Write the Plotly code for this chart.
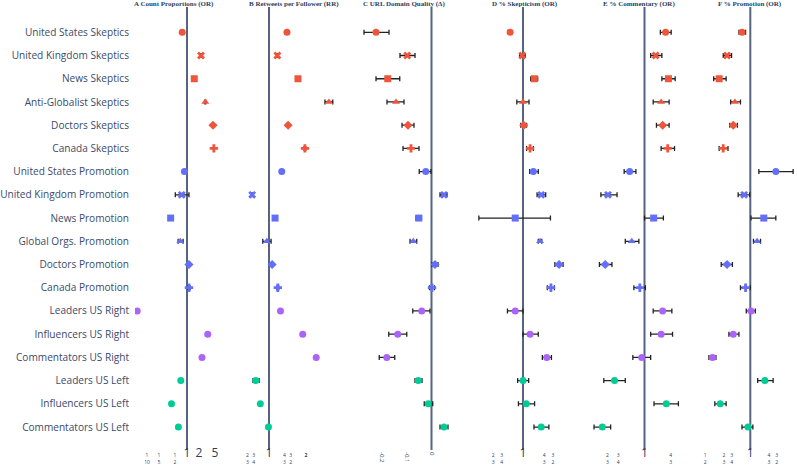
import plotly.graph_objects as go

rows = ["United States Skeptics", "United Kingdom Skeptics", "News Skeptics",
        "Anti-Globalist Skeptics", "Doctors Skeptics", "Canada Skeptics",
        "United States Promotion", "United Kingdom Promotion", "News Promotion",
        "Global Orgs. Promotion", "Doctors Promotion", "Canada Promotion",
        "Leaders US Right", "Influencers US Right", "Commentators US Right",
        "Leaders US Left", "Influencers US Left", "Commentators US Left"]

panel_titles = ["A Count Proportions (OR)", "B Retweets per Follower (RR)",
                "C URL Domain Quality (Δ)", "D % Skepticism (OR)",
                "E % Commentary (OR)", "F % Promotion (OR)"]

A_est = [0.76, 2.24, 1.52, 2.87, 4.47, 4.7, 0.86, 0.74, 0.39, 0.68, 1.12, 1.12, 0.057, 3.3, 2.37, 0.70, 0.41, 0.61]
A_lo = [0.74, 2.2, 1.42, 2.8, 4.4, 4.6, 0.84, 0.51, 0.37, 0.60, 1.08, 1.04, 0.055, 3.25, 2.33, 0.68, 0.40, 0.60]
A_hi = [0.78, 2.28, 1.62, 2.94, 4.55, 4.8, 0.88, 1.12, 0.41, 0.80, 1.16, 1.2, 0.059, 3.35, 2.41, 0.72, 0.42, 0.62]

B_est = [1.40, 1.17, 1.72, 3.07, 1.43, 1.96, 1.27, 0.73, 1.12, 0.96, 1.06, 1.18, 1.24, 1.88, 2.42, 0.78, 0.85, 0.99]
B_lo = [1.38, 1.16, 1.66, 2.85, 1.41, 1.93, 1.25, 0.72, 1.10, 0.89, 1.04, 1.16, 1.22, 1.86, 2.39, 0.74, 0.84, 0.98]
B_hi = [1.42, 1.18, 1.78, 3.30, 1.45, 1.99, 1.29, 0.74, 1.14, 1.04, 1.08, 1.20, 1.26, 1.90, 2.45, 0.83, 0.86, 1.00]

C_est = [-0.222, -0.097, -0.175, -0.142, -0.094, -0.082, -0.023, 0.050, -0.051, -0.073, 0.014, 0.002, -0.039, -0.135, -0.179, -0.053, -0.013, 0.050]
C_lo = [-0.270, -0.126, -0.222, -0.178, -0.118, -0.114, -0.049, 0.034, -0.062, -0.086, 0.002, -0.008, -0.075, -0.171, -0.209, -0.066, -0.029, 0.034]
C_hi = [-0.170, -0.066, -0.127, -0.110, -0.070, -0.050, -0.002, 0.062, -0.040, -0.059, 0.026, 0.012, -0.006, -0.099, -0.147, -0.038, 0.005, 0.066]

D_est = [0.84, 0.99, 1.166, 1.00, 1.01, 1.10, 1.15, 1.28, 0.90, 1.26, 1.63, 1.46, 0.90, 1.10, 1.38, 1.00, 1.045, 1.28]
D_lo = [0.82, 0.955, 1.11, 0.92, 0.97, 1.05, 1.095, 1.21, 0.55, 1.23, 1.54, 1.39, 0.81, 1.00, 1.30, 0.93, 0.94, 1.16]
D_hi = [0.86, 1.03, 1.22, 1.085, 1.05, 1.15, 1.23, 1.36, 1.45, 1.29, 1.72, 1.53, 1.00, 1.23, 1.47, 1.08, 1.17, 1.42]

E_est = [1.26, 1.13, 1.30, 1.20, 1.22, 1.29, 0.85, 0.67, 1.106, 0.87, 0.65, 0.95, 1.22, 1.20, 0.97, 0.72, 1.27, 0.63]
E_lo = [1.19, 1.07, 1.21, 1.10, 1.14, 1.20, 0.80, 0.62, 1.00, 0.81, 0.61, 0.89, 1.10, 1.07, 0.88, 0.64, 1.11, 0.575]
E_hi = [1.34, 1.21, 1.40, 1.31, 1.31, 1.39, 0.91, 0.74, 1.23, 0.94, 0.70, 1.01, 1.35, 1.36, 1.07, 0.81, 1.45, 0.69]

F_est = [0.88, 0.70, 0.62, 0.79, 0.77, 0.66, 1.48, 0.91, 1.23, 1.11, 0.70, 0.93, 1.01, 0.77, 0.56, 1.25, 0.63, 0.965]
F_lo = [0.84, 0.66, 0.57, 0.74, 0.73, 0.62, 1.14, 0.83, 1.01, 1.05, 0.64, 0.86, 0.94, 0.72, 0.53, 1.12, 0.58, 0.88]
F_hi = [0.93, 0.75, 0.69, 0.86, 0.82, 0.71, 1.93, 0.99, 1.48, 1.17, 0.76, 1.00, 1.08, 0.84, 0.59, 1.42, 0.69, 1.04]

BIG = "<span style='font-size:12px'>{}</span>"
A_ticks = [0.1, 0.2, 0.5, 1, 2, 5]
A_ticktext = ["1<br>10", "1<br>5", "1<br>2", BIG.format("1"), BIG.format("2"), BIG.format("5")]
B_ticks = [2/3, 3/4, 1, 4/3, 3/2, 2]
B_ticktext = ["2<br>3", "3<br>4", BIG.format("1"), "4<br>3", "3<br>2", "<b>2</b>"]
C_ticks = [-0.2, -0.1, 0]
C_ticktext = ["-0.2", "-0.1", "0"]
D_ticks = [2/3, 3/4, 1, 4/3, 3/2]
D_ticktext = ["2<br>3", "3<br>4", BIG.format("1"), "4<br>3", "3<br>2"]
E_ticks = [2/3, 3/4, 1, 4/3]
E_ticktext = ["2<br>3", "3<br>4", BIG.format("1"), "4<br>3"]
F_ticks = [1/2, 2/3, 3/4, 1, 4/3, 3/2, 2]
F_ticktext = ["1<br>2", "2<br>3", "3<br>4", BIG.format("1"), "4<br>3", "3<br>2", "<b>2</b>"]

group_colors = ["#EF553B"] * 6 + ["#636EFA"] * 6 + ["#AB63FA"] * 3 + ["#00CC96"] * 3
symbols = ["circle", "x", "square", "triangle-up", "diamond", "cross"] * 2 + ["circle"] * 6

W, H = 797, 465
panels_px = [(135, 240), (245, 340), (350, 455), (460, 575), (585, 690), (700, 797)]
ref_px = [187, 269, 431.5, 523, 644.5, 750.3]
scale = [40, 123, 250, 170, 210, 150]  # px per decade (log) / per unit (linear)
is_log = [True, True, False, True, True, True]
title_cx = [174, 294, 404, 525, 639, 750]

panels = [(A_est, A_lo, A_hi, A_ticks, A_ticktext),
          (B_est, B_lo, B_hi, B_ticks, B_ticktext),
          (C_est, C_lo, C_hi, C_ticks, C_ticktext),
          (D_est, D_lo, D_hi, D_ticks, D_ticktext),
          (E_est, E_lo, E_hi, E_ticks, E_ticktext),
          (F_est, F_lo, F_hi, F_ticks, F_ticktext)]

ypos = list(range(len(rows)))
fig = go.Figure()
layout = {}
ink = "#2a3f5f"
for i, (est, lo, hi, tv, tt) in enumerate(panels):
    xa = "x" if i == 0 else f"x{i+1}"
    fig.add_trace(go.Scatter(
        x=est, y=ypos, xaxis=xa, yaxis="y", mode="markers",
        marker=dict(color=group_colors, symbol=symbols, size=7, line=dict(width=0)),
        error_x=dict(type="data", symmetric=False,
                     array=[h - e for h, e in zip(hi, est)],
                     arrayminus=[e - l for e, l in zip(est, lo)],
                     color="#222222", thickness=1.3, width=2.5),
        showlegend=False, hoverinfo="skip"))
    p0, p1 = panels_px[i]
    r0 = -(ref_px[i] - p0) / scale[i]
    r1 = (p1 - ref_px[i]) / scale[i]
    ax = dict(domain=[p0 / W, p1 / W], anchor="y", showgrid=False, zeroline=False,
              showline=False, ticks="", tickvals=tv, ticktext=tt,
              tickfont=dict(size=5, color=ink, family="Open Sans"),
              ticklabelstandoff=1, automargin=False)
    if is_log[i]:
        ax.update(type="log", range=[r0, r1])
    else:
        ax.update(type="linear", range=[r0, r1], tickangle=90,
                  tickfont=dict(size=6, color=ink, family="Open Sans"))
    layout["xaxis" if i == 0 else f"xaxis{i+1}"] = ax
    fig.add_shape(type="line", xref=xa, yref="y domain",
                  x0=1 if is_log[i] else 0, x1=1 if is_log[i] else 0, y0=0, y1=1,
                  line=dict(color="#56657f", width=2), layer="below")
    fig.add_annotation(text=f"<b>{panel_titles[i]}</b>", xref="paper", yref="paper",
                       x=title_cx[i] / W, y=1 - 4 / H, xanchor="center", yanchor="middle",
                       showarrow=False,
                       font=dict(family="Liberation Serif", size=7, color=ink))

top_px, bot_px = 7, 450
row0, step = 32.3, 23.22
y_top = -(row0 - top_px) / step
y_bot = (len(rows) - 1) + (bot_px - (row0 + step * (len(rows) - 1))) / step

layout["yaxis"] = dict(domain=[(H - bot_px) / H, (H - top_px) / H],
                       range=[y_bot, y_top], tickvals=ypos, ticktext=rows,
                       showgrid=False, zeroline=False, showline=False, ticks="",
                       tickfont=dict(size=10.1, color="#3b4a6b", family="Open Sans"),
                       ticklabelstandoff=5, automargin=False)

fig.update_layout(**layout)
fig.update_layout(width=W, height=H, margin=dict(l=0, r=0, t=0, b=0),
                  paper_bgcolor="white", plot_bgcolor="white",
                  font=dict(family="Open Sans", color=ink))
fig.write_html("out.html")
